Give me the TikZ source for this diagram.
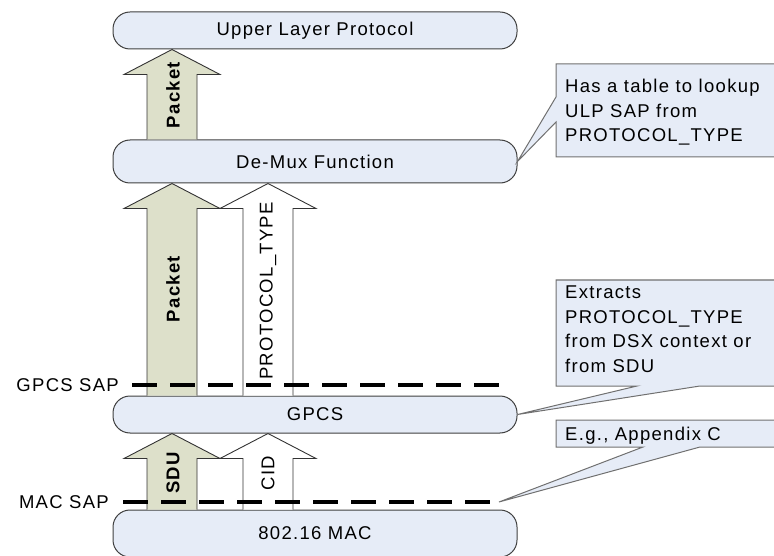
\documentclass[tikz,border=0pt]{standalone}
\usepackage{fontspec}
\setmainfont{Liberation Sans}[LetterSpace=7]
\usetikzlibrary{calc}
\definecolor{layerblue}{RGB}{230,236,247}
\definecolor{pktgreen}{RGB}{221,224,202}
\definecolor{edgegray}{RGB}{64,64,64}
\definecolor{notegray}{RGB}{112,112,112}
\tikzset{
    layer/.style={draw=edgegray, fill=layerblue, line width=1pt, rounded corners=17pt,
        minimum width=404pt, inner sep=0pt},
    blockarr/.style={draw=black!80, line width=0.9pt},
    sapline/.style={line width=4pt, dash pattern=on 25pt off 13pt},
    note/.style={draw=notegray, fill=layerblue, line width=1pt},
    notetext/.style={anchor=north west, align=left, inner sep=0pt},
    arrlabel/.style={rotate=90, inner sep=0pt}
}
\newcommand\blockarrow[4]{%
    \draw[blockarr,#1] let \p1=(#3.north), \p2=(#4.south) in
        (#2-25,\y1) -- (#2-25,\y2-25pt) -- (#2-48,\y2-25pt) -- (#2,\y2)
        -- (#2+48,\y2-25pt) -- (#2+25,\y2-25pt) -- (#2+25,\y1);}
\begin{document}
\begin{tikzpicture}[x=1pt, y=-1pt, font=\fontsize{18.5pt}{24.5pt}\selectfont]
                    \clip (0,0) rectangle (774,556);

                    \node[layer, minimum height=37pt] (ulp)   at (315,30.5)  {Upper Layer Protocol};
                    \node[layer, minimum height=43pt] (demux) at (315,161.5) {De-Mux Function};
                    \node[layer, minimum height=37pt] (gpcs)  at (315,414.5) {GPCS};
                    \node[layer, minimum height=47pt] (mac)   at (315,533.5) {802.16 MAC};

                    \blockarrow{fill=pktgreen}{172}{demux}{ulp}
                    \blockarrow{fill=pktgreen}{172}{gpcs}{demux}
                    \blockarrow{fill=white}{268}{gpcs}{demux}
                    \blockarrow{fill=pktgreen}{172}{mac}{gpcs}
                    \blockarrow{fill=white}{268}{mac}{gpcs}

                    \node[arrlabel] (pkttop) at (173,95)  {\bfseries Packet};
                    \node[arrlabel] (pktmid) at (173,289) {\bfseries Packet};
                    \node[arrlabel] (ptype)  at (268,291) {PROTOCOL\_TYPE};
                    \node[arrlabel] (sdu)    at (173,473) {\bfseries SDU};
                    \node[arrlabel] (cid)    at (268,473) {CID};

                    \node[anchor=east, inner sep=0pt] (gsaplbl) at (119,385) {GPCS SAP};
                    \node[anchor=east, inner sep=0pt] (msaplbl) at (109,502) {MAC SAP};
                    \coordinate (gsapl) at (132,385);
                    \coordinate (gsapr) at (500,385);
                    \coordinate (msapl) at (123,502);
                    \coordinate (msapr) at (499,502);
                    \draw[sapline] (gsapl) -- (gsapr);
                    \draw[sapline] (msapl) -- (msapr);

                    \filldraw[note] (556,64) -- (780,64) -- (780,157) -- (556,157) -- (556,122)
                        -- (demux.east) -- (556,97) -- cycle;
                    \filldraw[note] (556,280) -- (780,280) -- (780,386) -- (700,386)
                        -- (gpcs.east) -- (637,386) -- (556,386) -- cycle;
                    \filldraw[note] (556,420) -- (780,420) -- (780,447) -- (700,447)
                        -- (msapr) -- (643,447) -- (556,447) -- cycle;

                    \node[notetext] (notedemux) at (565,79)  {Has a table to lookup\\ULP SAP from\\PROTOCOL\_TYPE};
                    \node[notetext] (notegpcs)  at (565,286) {Extracts\\PROTOCOL\_TYPE\\from DSX context or\\from SDU};
                    \node[notetext] (notemac)   at (565,427) {E.g., Appendix C};
                \end{tikzpicture}
\end{document}
